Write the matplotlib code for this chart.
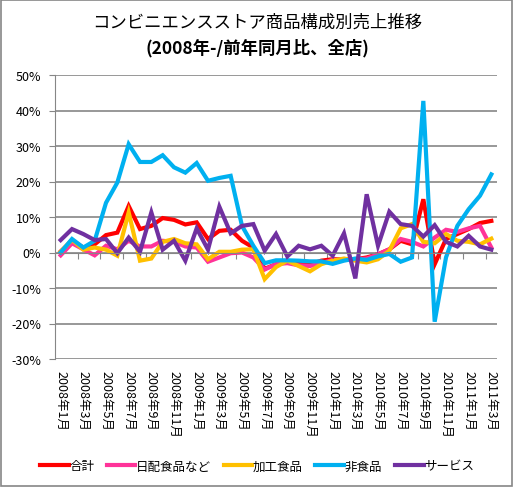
import matplotlib
matplotlib.use('Agg')
import matplotlib.pyplot as plt
from matplotlib.patches import Rectangle
from matplotlib.ticker import FuncFormatter

plt.rcParams['font.family'] = ['Noto Sans CJK JP', 'DejaVu Sans']

months = [f'{2008 + (i // 12)}年{i % 12 + 1}月' for i in range(39)]

total = [0.3, 3.3, 1.4, 2.3, 4.9, 5.6, 13.1, 6.6, 7.5, 9.7, 9.2, 7.9, 8.5, 3.8, 6.1, 6.4,
         3.3, 1.4, -4.6, -3.3, -2.3, -3.0, -3.3, -2.3, -1.9, -1.9, -1.9, -1.4, -0.5, 0.9,
         3.3, 2.3, 15.0, -3.3, 3.8, 5.2, 6.6, 8.3, 8.9]
daily = [-0.8, 2.6, 0.9, -0.8, 1.9, 0.9, 3.3, 1.7, 1.7, 3.3, 3.0, 1.7, 1.4, -2.6, -1.4, -0.2,
         0.0, -1.4, -4.8, -3.3, -3.0, -3.6, -3.8, -3.0, -2.1, -1.9, -1.9, -1.7, -0.5, 0.9,
         3.8, 3.0, 1.7, 4.2, 6.4, 5.8, 6.8, 7.5, 1.4]
processed = [0.2, 3.6, 0.8, 1.4, 0.8, -0.9, 11.3, -2.3, -1.7, 3.0, 3.8, 2.6, 2.3, -1.9, 0.2, 0.2,
             0.8, 0.9, -7.5, -4.1, -2.3, -3.8, -5.3, -3.3, -2.3, -1.7, -2.3, -2.8, -1.9, 0.5,
             6.8, 8.0, 3.0, 2.6, 5.2, 3.3, 3.0, 2.3, 3.9]
nonfood = [0.0, 3.8, 1.4, 3.3, 14.0, 19.7, 30.5, 25.5, 25.5, 27.4, 24.0, 22.5, 25.2, 20.2, 21.0,
           21.6, 7.5, 1.9, -3.0, -2.2, -2.2, -2.3, -2.5, -2.5, -3.2, -2.3, -1.7, -2.1, -1.1,
           -0.4, -2.6, -1.4, 42.7, -19.5, -1.4, 7.5, 12.2, 16.0, 22.0]
service = [3.5, 6.6, 5.2, 3.5, 3.8, -0.2, 4.2, 0.2, 11.3, 0.8, 3.3, -2.3, 6.8, 0.8, 12.9, 5.4,
           7.5, 8.0, 0.5, 5.2, -1.1, 1.9, 0.9, 1.9, -0.9, 5.4, -7.3, 16.4, 1.9, 11.5, 8.0, 7.5,
           4.5, 7.7, 3.0, 1.7, 4.7, 1.7, 0.8]

series = [('合計', total, '#FF0000'),
          ('日配食品など', daily, '#FF3399'),
          ('加工食品', processed, '#FFC000'),
          ('非食品', nonfood, '#00B0F0'),
          ('サービス', service, '#7030A0')]

fig = plt.figure(figsize=(5.14, 4.89), dpi=100)
ax = fig.add_axes([55 / 514, 1 - 360 / 489, 442 / 514, 284 / 489])

x = list(range(len(months)))
for name, vals, col in series:
    ax.plot(x, vals, color=col, lw=3, label=name, solid_joinstyle='miter')

ax.set_xlim(-0.5, len(months) - 0.5)
ax.set_ylim(-30, 50)
ax.set_yticks(range(-30, 51, 10))
ax.yaxis.set_major_formatter(FuncFormatter(lambda v, p: f'{v:.0f}%'))
ax.grid(axis='y', color='#868686', lw=1.2)
ax.set_axisbelow(True)
ax.tick_params(axis='y', length=4, color='#868686', labelsize=9, pad=6)

for s in ['top', 'right']:
    ax.spines[s].set_visible(False)
ax.spines['left'].set_color('#868686')
ax.spines['bottom'].set_color('#868686')
ax.spines['bottom'].set_position(('data', 0))
ax.set_xticks([b - 0.5 for b in range(0, len(months), 2)])
ax.tick_params(axis='x', length=4, color='#868686', labelbottom=False, direction='out')

sec = ax.secondary_xaxis(0.0)
sec.set_xticks(x[::2])
sec.set_xticklabels(months[::2], rotation=-90, fontsize=9)
sec.tick_params(length=0, pad=8)
sec.spines['bottom'].set_visible(False)

fig.text(0.5, 1 - 23 / 489, 'コンビニエンスストア商品構成別売上推移', ha='center', va='center',
         fontsize=12.5)
fig.text(0.5, 1 - 48 / 489, '(2008年-/前年同月比、全店)', ha='center', va='center',
         fontsize=12.5, fontweight='bold')

fig.legend(loc='center', bbox_to_anchor=(257 / 514, 1 - 467 / 489), ncol=5, frameon=False,
           fontsize=9, handlelength=2.3, handletextpad=0.05, columnspacing=1.0)

fig.patches.append(Rectangle((1 / 514, 2 / 489), 511 / 514, 486 / 489, transform=fig.transFigure,
                             fill=False, edgecolor='#868686', lw=1.2))

fig.savefig('out.png', dpi=100)
